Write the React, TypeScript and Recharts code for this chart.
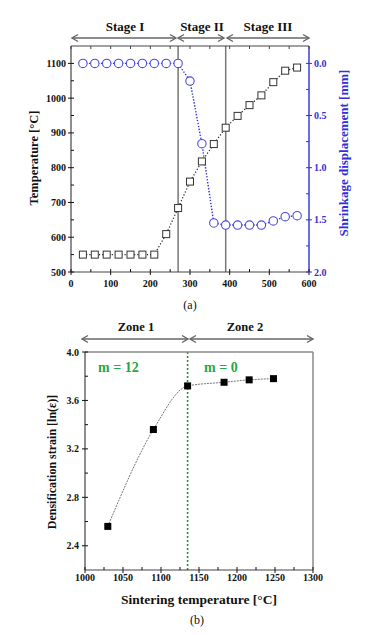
import React from 'react';
import { ComposedChart, Line, XAxis, YAxis, ReferenceLine } from 'recharts';

const FONT = '"Liberation Serif", "Times New Roman", serif';
const AXIS = '#444';
const BLUE = '#3030d8';
const GREEN = '#22a84a';

// (a) heating run: time [s] vs furnace temperature and shrinkage
const timeSec = [30, 60, 90, 120, 150, 180, 210, 240, 270, 300, 330, 360, 390, 420, 450, 480, 510, 540, 570];
const temperatureC = [550, 550, 550, 550, 550, 550, 550, 609, 684, 760, 818, 868, 915, 949, 980, 1008, 1046, 1079, 1088];
const shrinkageMm = [0, 0, 0, 0, 0, 0, 0, 0, 0, 0.17, 0.77, 1.53, 1.55, 1.55, 1.55, 1.55, 1.51, 1.47, 1.46];
const stageBounds = [270, 390];
const timeTicks = [0, 50, 100, 150, 200, 250, 300, 350, 400, 450, 500, 550, 600];
const timeLabels = [0, 100, 200, 300, 400, 500, 600];
const tempTicks = [500, 550, 600, 650, 700, 750, 800, 850, 900, 950, 1000, 1050, 1100];
const tempLabels = [500, 600, 700, 800, 900, 1000, 1100];
const dispTicks = [0, 0.25, 0.5, 0.75, 1, 1.25, 1.5, 1.75, 2];
const dispLabels = [0, 0.5, 1, 1.5, 2];

// (b) densification strain vs sintering temperature
const sinterTemp = [1030, 1090, 1135, 1183, 1216, 1248];
const densStrain = [2.56, 3.36, 3.72, 3.75, 3.77, 3.78];
const zoneBound = 1135;
const sinterTicks = [1000, 1025, 1050, 1075, 1100, 1125, 1150, 1175, 1200, 1225, 1250, 1275, 1300];
const sinterLabels = [1000, 1050, 1100, 1150, 1200, 1250, 1300];
const strainTicks = [2.4, 2.6, 2.8, 3.0, 3.2, 3.4, 3.6, 3.8, 4.0];
const strainLabels = [2.4, 2.8, 3.2, 3.6, 4.0];

const heatData = timeSec.map((t, i) => ({ t, temp: temperatureC[i], disp: shrinkageMm[i] }));
const strainData = sinterTemp.map((T, i) => ({ T, strain: densStrain[i] }));

type Side = 'left' | 'right' | 'bottom' | 'top';

// tickSize/tickMargin are 0, so x/y passed here sit on the axis line itself
const axisTick =
  (side: Side, labels: number[], fmt: (v: number) => string, color: string, gap: number) =>
  (props: any) => {
    const { x, y, payload } = props;
    const v = payload.value;
    const major = labels.some((m) => Math.abs(m - v) < 1e-6);
    const out = major ? 3 : 0;
    const inn = 3;
    const ts = { fontFamily: FONT, fontSize: 10, fontWeight: 700, fill: color };
    let mark;
    let label = null;
    if (side === 'left') {
      mark = <line x1={x - out} x2={x + inn} y1={y} y2={y} stroke={color} />;
      if (major) label = <text x={x - gap} y={y} dy="0.35em" textAnchor="end" style={ts}>{fmt(v)}</text>;
    } else if (side === 'right') {
      mark = <line x1={x + out} x2={x - inn} y1={y} y2={y} stroke={color} />;
      if (major) label = <text x={x + gap} y={y} dy="0.35em" textAnchor="start" style={ts}>{fmt(v)}</text>;
    } else if (side === 'bottom') {
      mark = <line x1={x} x2={x} y1={y + out} y2={y - inn} stroke={color} />;
      if (major) label = <text x={x} y={y + gap} textAnchor="middle" style={ts}>{fmt(v)}</text>;
    } else {
      mark = <line x1={x} x2={x} y1={y} y2={y + inn} stroke={color} />;
    }
    return (
      <g>
        {mark}
        {label}
      </g>
    );
  };

const squareOpen = (p: any) => (
  <rect key={`s${p.index}`} x={p.cx - 3.5} y={p.cy - 3.5} width={7} height={7} fill="#fff" stroke="#333" strokeWidth={1} />
);
const circleOpen = (p: any) => (
  <circle key={`c${p.index}`} cx={p.cx} cy={p.cy} r={4.2} fill="#fff" stroke="#4a4ae0" strokeWidth={1.1} />
);
const squareFilled = (p: any) => (
  <rect key={`f${p.index}`} x={p.cx - 3.5} y={p.cy - 3.5} width={7} height={7} fill="#000" />
);

const Arrow = ({ x1, x2, y }: { x1: number; x2: number; y: number }) => (
  <g stroke="#666" strokeWidth={1.4} fill="none">
    <line x1={x1} x2={x2} y1={y} y2={y} />
    <polyline points={`${x1 + 6},${y - 3.5} ${x1},${y} ${x1 + 6},${y + 3.5}`} />
    <polyline points={`${x2 - 6},${y - 3.5} ${x2},${y} ${x2 - 6},${y + 3.5}`} />
  </g>
);

const bold = (size: number, fill = '#111') => ({ fontFamily: FONT, fontSize: size, fontWeight: 700, fill });

export default function App() {
  return (
    <div style={{ position: 'absolute', left: 0, top: 0, width: 378, height: 635, background: '#fff' }}>
      {/* (a) */}
      <div style={{ position: 'absolute', left: 0, top: 0 }}>
        <ComposedChart width={378} height={300} data={heatData} margin={{ top: 45, right: 0, bottom: 0, left: 0 }}>
          <XAxis
            dataKey="t"
            type="number"
            domain={[0, 600]}
            ticks={timeTicks}
            interval={0}
            height={28}
            tickSize={0}
            tickMargin={0}
            tickLine={false}
            axisLine={{ stroke: AXIS, strokeWidth: 1.2 }}
            tick={axisTick('bottom', timeLabels, String, '#111', 15)}
          />
          <XAxis
            xAxisId="top"
            orientation="top"
            dataKey="t"
            type="number"
            domain={[0, 600]}
            ticks={timeTicks}
            interval={0}
            height={1}
            tickSize={0}
            tickMargin={0}
            tickLine={false}
            axisLine={{ stroke: AXIS, strokeWidth: 1.2 }}
            tick={axisTick('top', [], String, AXIS, 0)}
          />
          <YAxis
            yAxisId="temp"
            type="number"
            domain={[500, 1150]}
            ticks={tempTicks}
            interval={0}
            width={71}
            tickSize={0}
            tickMargin={0}
            tickLine={false}
            axisLine={{ stroke: AXIS, strokeWidth: 1.2 }}
            tick={axisTick('left', tempLabels, String, '#111', 5)}
          />
          <YAxis
            yAxisId="disp"
            orientation="right"
            type="number"
            domain={[-1 / 6, 2]}
            reversed
            ticks={dispTicks}
            interval={0}
            width={69}
            tickSize={0}
            tickMargin={0}
            tickLine={false}
            axisLine={{ stroke: BLUE, strokeWidth: 1.4 }}
            tick={axisTick('right', dispLabels, (v) => v.toFixed(1), BLUE, 5)}
          />
          {stageBounds.map((b) => (
            <ReferenceLine key={b} x={b} yAxisId="temp" stroke="#777" strokeWidth={1.5} />
          ))}
          <Line
            yAxisId="temp"
            dataKey="temp"
            type="linear"
            stroke="#222"
            strokeWidth={1.2}
            strokeDasharray="1.2 2"
            dot={squareOpen}
            isAnimationActive={false}
          />
          <Line
            yAxisId="disp"
            dataKey="disp"
            type="linear"
            stroke={BLUE}
            strokeWidth={1.4}
            strokeDasharray="1.4 1.6"
            dot={circleOpen}
            isAnimationActive={false}
          />
        </ComposedChart>
      </div>

      {/* (b) */}
      <div style={{ position: 'absolute', left: 0, top: 310 }}>
        <ComposedChart width={378} height={290} data={strainData} margin={{ top: 41, right: 0, bottom: 0, left: 0 }}>
          <XAxis
            dataKey="T"
            type="number"
            domain={[1000, 1300]}
            ticks={sinterTicks}
            interval={0}
            height={30}
            tickSize={0}
            tickMargin={0}
            tickLine={false}
            axisLine={{ stroke: AXIS, strokeWidth: 1.2 }}
            tick={axisTick('bottom', sinterLabels, String, '#111', 11)}
          />
          <XAxis xAxisId="top" orientation="top" dataKey="T" type="number" domain={[1000, 1300]} height={1} tick={false} tickLine={false} axisLine={{ stroke: '#888', strokeWidth: 1.5 }} />
          <YAxis
            yAxisId="strain"
            type="number"
            domain={[2.2, 4.0]}
            ticks={strainTicks}
            interval={0}
            width={85}
            tickSize={0}
            tickMargin={0}
            tickLine={false}
            axisLine={{ stroke: AXIS, strokeWidth: 1.2 }}
            tick={axisTick('left', strainLabels, (v) => v.toFixed(1), '#111', 6)}
          />
          <YAxis yAxisId="frame" orientation="right" type="number" domain={[2.2, 4.0]} width={65} tick={false} tickLine={false} axisLine={{ stroke: '#888', strokeWidth: 1.5 }} />
          <ReferenceLine x={zoneBound} yAxisId="strain" stroke="#2e8b2e" strokeWidth={1.6} strokeDasharray="2 2" />
          <Line
            yAxisId="strain"
            dataKey="strain"
            type="monotone"
            stroke="#777"
            strokeWidth={1}
            strokeDasharray="2 1"
            dot={squareFilled}
            isAnimationActive={false}
          />
        </ComposedChart>
      </div>

      {/* annotations */}
      <svg width={378} height={635} style={{ position: 'absolute', left: 0, top: 0, pointerEvents: 'none' }}>
        <text x={125} y={31} textAnchor="middle" style={bold(13)}>Stage I</text>
        <text x={202} y={31} textAnchor="middle" style={bold(13)}>Stage II</text>
        <text x={268} y={31} textAnchor="middle" style={bold(13)}>Stage III</text>
        <Arrow x1={72} x2={176} y={38} />
        <Arrow x1={178} x2={224} y={38} />
        <Arrow x1={227} x2={309} y={38} />
        <text transform="translate(38,158) rotate(-90)" textAnchor="middle" style={bold(12.5)}>Temperature [°C]</text>
        <text transform="translate(348,153) rotate(-90)" textAnchor="middle" style={bold(13, BLUE)}>Shrinkage displacement [mm]</text>
        <text x={190} y={309} textAnchor="middle" style={{ fontFamily: FONT, fontSize: 12, fill: '#111' }}>(a)</text>

        <text x={136} y={331} textAnchor="middle" style={bold(12.5)}>Zone 1</text>
        <text x={245} y={331} textAnchor="middle" style={bold(12.5)}>Zone 2</text>
        <Arrow x1={82} x2={188} y={339} />
        <Arrow x1={190} x2={313} y={339} />
        <text x={98} y={372} style={bold(14, GREEN)}>m = 12</text>
        <text x={204} y={372} style={bold(14, GREEN)}>m = 0</text>
        <text transform="translate(56,462) rotate(-90)" textAnchor="middle" style={bold(12)}>Densification strain [ln(ε)]</text>
        <text x={199} y={604} textAnchor="middle" style={bold(13.5)}>Sintering temperature [°C]</text>
        <text x={197} y={624} textAnchor="middle" style={{ fontFamily: FONT, fontSize: 12, fill: '#111' }}>(b)</text>
      </svg>
    </div>
  );
}
